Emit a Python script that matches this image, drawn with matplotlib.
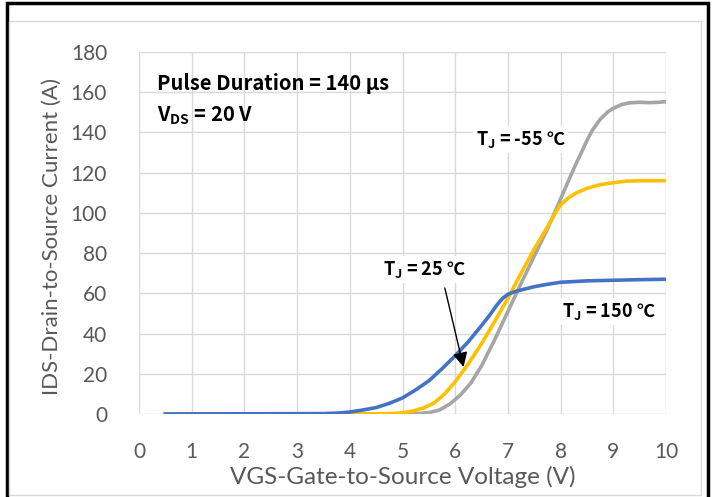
import matplotlib.pyplot as plt
import numpy as np

plt.rcParams['font.family'] = ['Lato', 'DejaVu Sans']
plt.rcParams['mathtext.fontset'] = 'custom'
plt.rcParams['mathtext.rm'] = 'Noto Sans CJK JP'
plt.rcParams['mathtext.bf'] = 'Noto Sans CJK JP:bold'

# T_J = 150 C (blue)
vgs_150 = [0.5, 3.5, 3.8, 4.0, 4.25, 4.5, 4.75, 5.0, 5.25, 5.5, 5.75, 6.0, 6.25, 6.5,
           6.65, 6.8, 6.9, 7.0, 7.15, 7.3, 7.5, 7.75, 8.0, 8.5, 9.0, 9.5, 10.0]
ids_150 = [0, 0.2, 0.5, 1, 2, 3.2, 5.3, 8, 12, 16.5, 22.5, 29, 36, 44,
           49, 54.5, 57.5, 59.5, 61, 62, 63.3, 64.5, 65.5, 66.2, 66.5, 66.8, 67]

# T_J = 25 C (yellow)
vgs_25 = [0.5, 4.5, 4.8, 5.0, 5.2, 5.4, 5.6, 5.8, 6.0, 6.25, 6.5, 6.75, 7.0, 7.25, 7.5,
          7.75, 7.9, 8.0, 8.15, 8.3, 8.5, 8.75, 9.0, 9.25, 9.5, 10.0]
ids_25 = [0, 0, 0.2, 0.6, 1.5, 3, 5.5, 10, 16, 25, 35, 46, 57.5, 70, 82,
          93, 100, 104, 107.5, 110, 112.2, 114, 115, 115.8, 116, 116]

# T_J = -55 C (gray)
vgs_m55 = [0.5, 5.0, 5.3, 5.5, 5.7, 5.9, 6.1, 6.3, 6.5, 6.75, 7.0, 7.25, 7.5, 7.75, 8.0,
           8.25, 8.5, 8.6, 8.75, 8.9, 9.0, 9.15, 9.3, 9.5, 9.7, 9.85, 10.0]
ids_m55 = [0, 0, 0.2, 0.7, 2, 5, 9.5, 15.5, 24, 37, 51, 65, 78.5, 92, 107,
           122, 136, 141, 146.5, 150.3, 152, 153.8, 154.7, 155, 154.8, 155, 155.3]

x_ticks = list(range(0, 11))
y_ticks = list(range(0, 181, 20))

fig = plt.figure(figsize=(7.17, 4.97), dpi=100)

# outer frame
fig.patches.append(plt.Rectangle((0.01, -0.01), 0.978, 1.004, transform=fig.transFigure,
                                 fill=False, edgecolor='black', linewidth=2.5))
fig.patches.append(plt.Rectangle((0.013, 0.004), 0.965, 0.954, transform=fig.transFigure,
                                 fill=False, edgecolor='#d9d9d9', linewidth=1))

ax = fig.add_axes([0.1939, 0.167, 0.735, 0.7284])

ax.plot(vgs_m55, ids_m55, color='#a5a5a5', linewidth=2.6, zorder=3)
ax.plot(vgs_25, ids_25, color='#ffc000', linewidth=2.6, zorder=4)
ax.plot(vgs_150, ids_150, color='#4472c4', linewidth=2.6, zorder=5)

ax.set_xlim(0, 10)
ax.set_ylim(0, 180)
ax.set_xticks(x_ticks)
ax.set_yticks(y_ticks)
ax.grid(True, color='#d9d9d9', linewidth=1)
ax.set_axisbelow(True)
for s in ax.spines.values():
    s.set_visible(False)
ax.tick_params(length=0, labelsize=15, colors='#595959')
ax.tick_params(axis='x', pad=20)
ax.tick_params(axis='y', pad=23)

ax.set_xlabel('VGS-Gate-to-Source Voltage (V)', fontsize=17.5, color='#595959', va='center')
ax.set_ylabel('IDS-Drain-to-Source Current (A)', fontsize=16, color='#595959', va='center')
ax.xaxis.set_label_coords(0.5, -0.174)
ax.yaxis.set_label_coords(-0.165, 0.49)

fam = ['Noto Sans CJK JP', 'DejaVu Sans']
ax.text(0.34, 161.1, 'Pulse Duration = 140 µs', fontsize=14.5, fontweight='bold',
        family=fam)
ax.text(0.34, 145.2, r'V$_\mathbf{DS}$ = 20 V', fontsize=14.5, fontweight='bold', family=fam)

box = dict(facecolor='white', edgecolor='none', pad=2)
ax.text(6.39, 133.8, r'T$_\mathbf{J}$ = -55 ℃', fontsize=13, fontweight='bold',
        family=fam, bbox=box, zorder=6)
ax.text(4.63, 69.1, r'T$_\mathbf{J}$ = 25 ℃', fontsize=13, fontweight='bold',
        family=fam, bbox=box, zorder=6)
ax.text(8.03, 48.2, r'T$_\mathbf{J}$ = 150 ℃', fontsize=13, fontweight='bold',
        family=fam, bbox=box, zorder=6)

ax.annotate('', xy=(6.17, 22), xytext=(5.79, 64),
            arrowprops=dict(arrowstyle='-|>', color='black', lw=1, mutation_scale=22),
            zorder=7)

fig.savefig('out.png', dpi=100)
